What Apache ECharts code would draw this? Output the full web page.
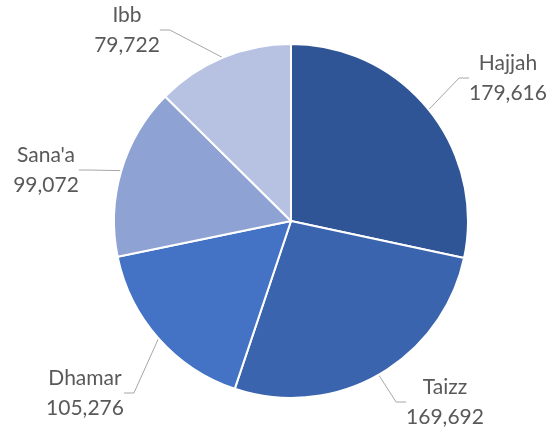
<!DOCTYPE html>
<html>
<head>
<meta charset="utf-8">
<script src="https://cdn.jsdelivr.net/npm/echarts@6/dist/echarts.min.js"></script>
<style>
  html, body { margin: 0; padding: 0; background: #fff; }
  #chart { width: 553px; height: 431px; }
</style>
</head>
<body>
<div id="chart"></div>
<script>
var regions = ['Hajjah', 'Taizz', 'Dhamar', "Sana'a", 'Ibb'];
var counts = [179616, 169692, 105276, 99072, 79722];
var colors = ['#2F5597', '#3A64AD', '#4472C4', '#8FA2D4', '#B7C2E3'];

// where each label block sits (centre of the two lines)
var labelPos = [[508, 78], [445, 402], [85, 393], [46, 170], [127, 30]];

var myChart = echarts.init(document.getElementById('chart'));

var data = [];
for (var i = 0; i < regions.length; i++) {
    data.push({ name: regions[i], value: counts[i], itemStyle: { color: colors[i] } });
}

var option = {
    animation: false,
    series: [
        {
            type: 'pie',
            center: [291, 221],
            radius: 177,
            startAngle: 90,
            clockwise: true,
            itemStyle: {
                borderColor: '#fff',
                borderWidth: 2
            },
            label: {
                show: true,
                position: 'outside',
                formatter: function (p) {
                    return p.name + '\n' + p.value.toLocaleString('en-US');
                },
                fontFamily: 'Lato',
                fontSize: 21,
                lineHeight: 30,
                color: '#595959',
                align: 'center'
            },
            labelLine: {
                show: true,
                length: 10,
                length2: 10,
                lineStyle: { color: '#A6A6A6', width: 1 }
            },
            labelLayout: function (params) {
                var p = labelPos[params.dataIndex];
                return {
                    x: p[0],
                    y: p[1],
                    align: 'center',
                    verticalAlign: 'middle'
                };
            },
            data: data
        }
    ]
};
myChart.setOption(option);
</script>
</body>
</html>
